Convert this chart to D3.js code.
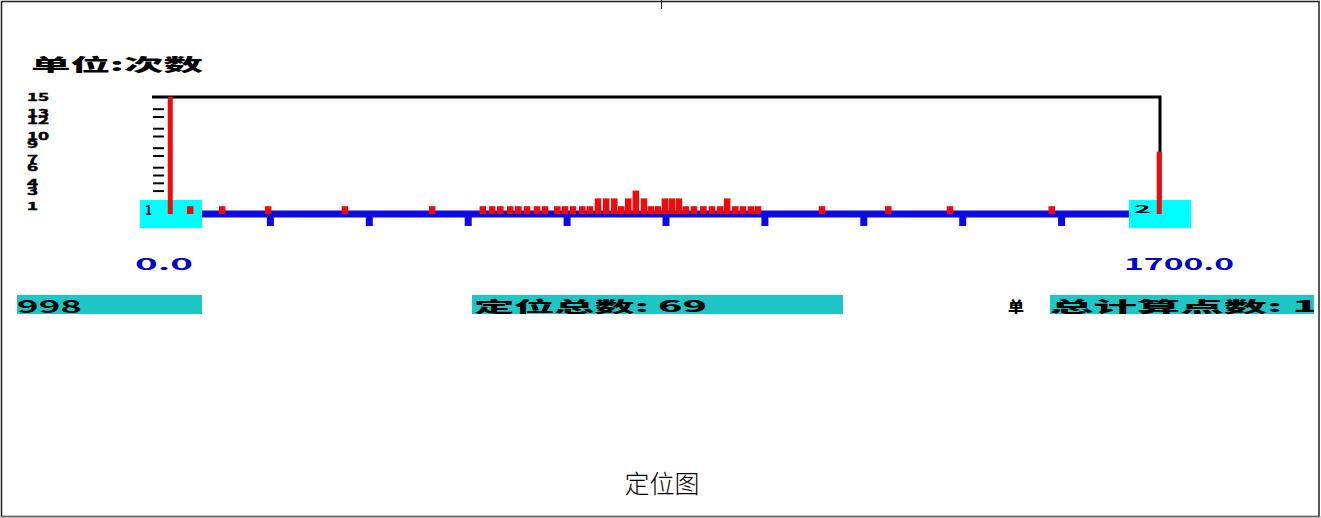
<!DOCTYPE html>
<html>
<head>
<meta charset="utf-8">
<script src="https://cdn.jsdelivr.net/npm/d3@7"></script>
<style>
  html, body { margin: 0; padding: 0; background: #fff; }
  svg { display: block; }
  text { font-family: "Noto Sans CJK SC", "Liberation Sans", sans-serif; }
</style>
</head>
<body>
<svg id="chart" width="1321" height="518"></svg>
<script>
// Located events along the line: position (m) and number of hits at that position
const positions = [0, 33, 88, 167, 299, 449,
  536, 552, 566, 583, 597, 612, 629, 643, 664, 677, 691, 707, 720,
  734, 748, 762, 774, 786, 799, 813, 825, 837, 849, 861, 873,
  885, 899, 915, 930, 944, 956, 970, 983, 997, 1009,
  1119, 1233, 1339, 1514, 1700];
const counts = [15, 1, 1, 1, 1, 1,
  1, 1, 1, 1, 1, 1, 1, 1, 1, 1, 1, 1, 1,
  2, 2, 2, 1, 2, 3, 2, 1, 1, 2, 2, 2,
  1, 1, 1, 1, 1, 2, 1, 1, 1, 1,
  1, 1, 1, 1, 8];

// Axis content
const yLabelValues = [15, 13, 12, 10, 9, 7, 6, 4, 3, 1];
const yTickValues = [13.5, 12.5, 11, 10, 8.5, 7.5, 6, 5, 4, 3];
const xTickValues = [170, 340, 510, 680, 850, 1020, 1190, 1360, 1530];
const xDomain = [0, 1700];
const xEndLabels = ["0.0", "1700.0"];
const sensorNames = ["1", "2"];

// Text blocks
const unitTitle = "单位:次数";
const infoLeft = "998";
const infoMiddle = "定位总数: 69";
const infoRightHead = "单";
const infoRight = "总计算点数: 1000";
const caption = "定位图";

const svg = d3.select("#chart");

const RED = "#f00a0a", BLUE = "#0a0ae6", CYAN = "#00ffff", TEAL = "#1fc6c6";

// Page frame
svg.append("rect").attr("x", 1.5).attr("y", 1.5).attr("width", 1317.5).attr("height", 515)
  .attr("fill", "none").attr("stroke", "#222").attr("stroke-width", 1.5);
svg.append("line").attr("x1", 0).attr("x2", 1321).attr("y1", 517).attr("y2", 517)
  .attr("stroke", "#aaa").attr("stroke-width", 1);
svg.append("line").attr("x1", 661.5).attr("x2", 661.5).attr("y1", 0).attr("y2", 9)
  .attr("stroke", "#222").attr("stroke-width", 1);

const x = d3.scaleLinear().domain(xDomain).range([171, 1160]);
const y = d3.scaleLinear().domain([0, 15]).range([214, 97]);

// Unit title
svg.append("text").attr("x", 31).attr("y", 71)
  .attr("font-size", 17).attr("font-weight", 900)
  .attr("textLength", 172).attr("lengthAdjust", "spacingAndGlyphs")
  .text(unitTitle);

// Y labels, squeezed vertically and packed tightly like the source display
svg.append("g").selectAll("text").data(yLabelValues).join("text")
  .attr("transform", d => `translate(27,${y(d) + 4}) scale(1.25,0.72)`)
  .attr("font-family", "Liberation Sans, sans-serif")
  .attr("font-size", 15).attr("font-weight", 700)
  .attr("stroke", "#000").attr("stroke-width", 0.6)
  .text(d => d);

// Y tick marks
const yAxis = svg.append("g").attr("transform", "translate(164,0)")
  .call(d3.axisLeft(y).tickValues(yTickValues).tickSize(11).tickFormat(""));
yAxis.select(".domain").remove();
yAxis.selectAll(".tick line").attr("stroke", "#000").attr("stroke-width", 2);

// Top and right border of the plot
svg.append("path")
  .attr("d", `M152,${y(15)}H${x(xDomain[1])}V${y(0)}`)
  .attr("fill", "none").attr("stroke", "#000").attr("stroke-width", 3);

// Baseline axis in blue with stub ticks
const xAxis = svg.append("g").attr("transform", `translate(0,${y(0) - 0.5})`)
  .call(d3.axisBottom(x).tickValues(xTickValues).tickSize(0).tickSizeOuter(0).tickFormat(""));
xAxis.select(".domain").attr("stroke", BLUE).attr("stroke-width", 7);
xAxis.selectAll(".tick line").attr("y1", 3).attr("y2", 12.5)
  .attr("stroke", BLUE).attr("stroke-width", 7);

// Sensor boxes at both ends
svg.append("g").selectAll("rect").data(xDomain).join("rect")
  .attr("x", d => x(d) - 31).attr("y", 200).attr("width", 62).attr("height", 28)
  .attr("fill", CYAN);

// Hit counts
const barW = 6.5;
svg.append("g").selectAll("rect").data(positions).join("rect")
  .attr("x", d => x(d) - barW / 2)
  .attr("width", (d, i) => (i === 0 || i === positions.length - 1) ? 5 : barW)
  .attr("y", (d, i) => y(counts[i]))
  .attr("height", (d, i) => y(0) - y(counts[i]))
  .attr("fill", RED);

// Sensor numbers
svg.append("g").selectAll("text").data(sensorNames).join("text")
  .attr("x", (d, i) => x(xDomain[i]) - 26)
  .attr("y", (d, i) => i === 0 ? 215 : 213)
  .attr("font-family", "Liberation Sans, sans-serif")
  .attr("font-size", (d, i) => i === 0 ? 13 : 11).attr("font-weight", 700)
  .attr("textLength", (d, i) => i === 0 ? 7 : 17).attr("lengthAdjust", "spacingAndGlyphs")
  .text(d => d);

// End position labels
svg.append("g").selectAll("text").data(xEndLabels).join("text")
  .attr("x", (d, i) => x(xDomain[i]) - 36)
  .attr("y", 270)
  .attr("font-family", "Liberation Sans, sans-serif")
  .attr("font-size", 16).attr("font-weight", 700).attr("fill", "#0000cc")
  .attr("textLength", (d, i) => i === 0 ? 58 : 110).attr("lengthAdjust", "spacingAndGlyphs")
  .text(d => d);

// Info strip
svg.append("rect").attr("x", 17).attr("y", 295).attr("width", 185).attr("height", 19).attr("fill", TEAL);
svg.append("rect").attr("x", 472).attr("y", 295).attr("width", 371).attr("height", 19).attr("fill", TEAL);

svg.append("text").attr("x", 17).attr("y", 313)
  .attr("font-family", "Liberation Sans, sans-serif")
  .attr("font-size", 18).attr("font-weight", 700)
  .attr("textLength", 65).attr("lengthAdjust", "spacingAndGlyphs")
  .text(infoLeft);

svg.append("text").attr("x", 474).attr("y", 312)
  .attr("font-size", 15).attr("font-weight", 900)
  .attr("textLength", 233).attr("lengthAdjust", "spacingAndGlyphs")
  .text(infoMiddle);

svg.append("text").attr("x", 1008).attr("y", 312)
  .attr("font-size", 15).attr("font-weight", 900)
  .attr("textLength", 16).attr("lengthAdjust", "spacingAndGlyphs")
  .text(infoRightHead);

svg.append("defs").append("clipPath").attr("id", "rightClip")
  .append("rect").attr("x", 1050).attr("y", 280).attr("width", 264).attr("height", 40);
const rightInfo = svg.append("g").attr("clip-path", "url(#rightClip)");
rightInfo.append("rect").attr("x", 1050).attr("y", 295).attr("width", 264).attr("height", 19).attr("fill", TEAL);
rightInfo.append("text").attr("x", 1050).attr("y", 312)
  .attr("font-size", 15).attr("font-weight", 900)
  .attr("textLength", 348).attr("lengthAdjust", "spacingAndGlyphs")
  .text(infoRight);

// Caption
svg.append("text").attr("x", 662).attr("y", 493)
  .attr("text-anchor", "middle")
  .attr("font-size", 25).attr("font-weight", 300)
  .text(caption);
</script>
</body>
</html>
